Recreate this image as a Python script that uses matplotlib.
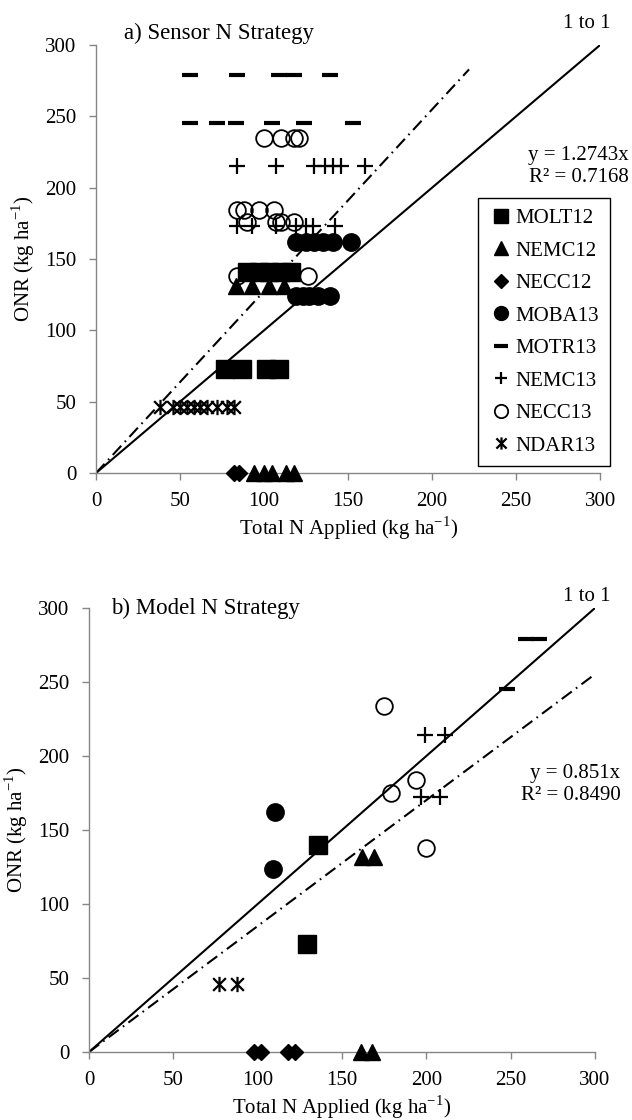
import numpy as np
import matplotlib
matplotlib.use("Agg")
import matplotlib.pyplot as plt
from matplotlib.path import Path

plt.rcParams['font.family'] = ['Liberation Serif', 'DejaVu Serif']
plt.rcParams['mathtext.fontset'] = 'custom'
plt.rcParams['mathtext.rm'] = 'Liberation Serif'

# nombres de los sitios
sites = ["MOLT12", "NEMC12", "NECC12", "MOBA13", "MOTR13", "NEMC13", "NECC13", "NDAR13"]

# a) Sensor N Strategy: N total aplicado (x) y ONR (y)
sensor_x = {
    "MOLT12": [90, 97, 103, 110, 116, 77, 87, 101, 109],
    "NEMC12": [83, 93, 103, 112, 94, 100, 105, 113, 118],
    "NECC12": [82, 85],
    "MOBA13": [119, 125, 130, 135, 141, 152, 119, 123, 127, 132, 139],
    "MOTR13": [56, 84, 109, 118, 139, 56, 72, 83, 105, 124, 153],
    "NEMC13": [84, 107, 130, 136, 141, 146, 160, 84, 93, 107, 119, 125, 129, 142],
    "NECC13": [100, 110, 118, 121, 84, 88, 97, 106, 90, 107, 110, 118, 84, 126],
    "NDAR13": [38, 46, 50, 54, 58, 62, 66, 72, 78, 82],
}
sensor_y = {
    "MOLT12": [141, 141, 141, 141, 141, 73, 73, 73, 73],
    "NEMC12": [131, 131, 131, 131, 0, 0, 0, 0, 0],
    "NECC12": [0, 0],
    "MOBA13": [162, 162, 162, 162, 162, 162, 124, 124, 124, 124, 124],
    "MOTR13": [279, 279, 279, 279, 279, 245, 245, 245, 245, 245, 245],
    "NEMC13": [215, 215, 215, 215, 215, 215, 215, 173, 173, 173, 173, 173, 173, 173],
    "NECC13": [235, 235, 235, 235, 184, 184, 184, 184, 176, 176, 176, 176, 138, 138],
    "NDAR13": [46, 46, 46, 46, 46, 46, 46, 46, 46, 46],
}

# b) Model N Strategy
model_x = {
    "MOLT12": [136, 129],
    "NEMC12": [162, 169, 161, 168],
    "NECC12": [98, 102, 118, 122],
    "MOBA13": [110, 109],
    "MOTR13": [259, 267, 248],
    "NEMC13": [199, 211, 197, 208],
    "NECC13": [175, 194, 179, 200],
    "NDAR13": [77, 88],
}
model_y = {
    "MOLT12": [140, 73],
    "NEMC12": [132, 132, 0, 0],
    "NECC12": [0, 0, 0, 0],
    "MOBA13": [162, 124],
    "MOTR13": [279, 279, 245],
    "NEMC13": [214, 214, 172, 172],
    "NECC13": [234, 184, 175, 138],
    "NDAR13": [46, 46],
}

# pendientes y R2 de las regresiones
sensor_slope, sensor_r2, sensor_xmax = 1.2743, 0.7168, 222
model_slope, model_r2, model_xmax = 0.851, 0.8490, 298

# marcador tipo asterisco de Excel: una X con linea vertical
asterisco = Path([(-1, -1), (1, 1), (-1, 1), (1, -1), (0, -1.2), (0, 1.2)],
                 [Path.MOVETO, Path.LINETO, Path.MOVETO, Path.LINETO,
                  Path.MOVETO, Path.LINETO])

# estilo de marcadores por sitio
estilos = {
    "MOLT12": dict(marker='s', ms=13, mfc='black', mec='black'),
    "NEMC12": dict(marker='^', ms=12, mfc='black', mec='black'),
    "NECC12": dict(marker='D', ms=8.5, mfc='black', mec='black'),
    "MOBA13": dict(marker='o', ms=12.5, mfc='black', mec='black'),
    "MOTR13": dict(marker='_', ms=12, mec='black', mew=3),
    "NEMC13": dict(marker='+', ms=11, mec='black', mew=1.6),
    "NECC13": dict(marker='o', ms=12, mfc='none', mec='black', mew=1.3),
    "NDAR13": dict(marker=asterisco, ms=11, mfc='none', mec='black', mew=1.6),
}

gris = '#868686'
fs = 15


def formato_ejes(ax):
    ax.set_xlim(0, 300)
    ax.set_ylim(0, 300)
    ax.set_xticks(range(0, 301, 50))
    ax.set_yticks(range(0, 301, 50))
    for lado in ['top', 'right']:
        ax.spines[lado].set_visible(False)
    for lado in ['left', 'bottom']:
        ax.spines[lado].set_color(gris)
        ax.spines[lado].set_linewidth(1.0)
    ax.tick_params(direction='out', length=5, width=1.0, color=gris,
                   labelsize=fs, pad=9)
    ax.set_xlabel('Total N Applied (kg ha$^{\\mathregular{-1}}$)', fontsize=fs, labelpad=2)
    ax.set_ylabel('ONR (kg ha$^{\\mathregular{-1}}$)', fontsize=fs, labelpad=6)


def dibujar(ax, xs, ys, slope, r2, xmax, titulo, tit_pos, uno_pos, eq_pos):
    lx = np.array([0, 300])
    ax.plot(lx, lx, color='black', lw=1.5, zorder=1)
    rx = np.array([0, xmax])
    ax.plot(rx, slope * rx, color='black', lw=1.5,
            linestyle=(0, (6, 2.5, 0.8, 2.5)), zorder=1)
    handles = []
    for s in sites:
        h, = ax.plot(xs[s], ys[s], linestyle='none', label=s, zorder=3,
                     clip_on=False, **estilos[s])
        handles.append(h)
    ax.text(tit_pos[0], tit_pos[1], titulo, fontsize=16.5, va='center', ha='left')
    ax.text(uno_pos[0], uno_pos[1], '1 to 1', fontsize=fs, va='center', ha='center',
            clip_on=False)
    ax.text(eq_pos[0], eq_pos[1], f'y = {slope}x\nR² = {r2:.4f}', fontsize=fs,
            va='center', ha='right', multialignment='right', linespacing=1.2,
            clip_on=False)
    formato_ejes(ax)
    return handles


fig = plt.figure(figsize=(6.32, 11.2), dpi=100)
ax1 = fig.add_axes([0.152, 0.5777, 0.7975, 0.3821])
ax2 = fig.add_axes([0.1408, 0.0607, 0.8006, 0.3964])

handles = dibujar(ax1, sensor_x, sensor_y, sensor_slope, sensor_r2, sensor_xmax,
                  'a) Sensor N Strategy', (16.5, 308), (292, 315), (317, 215))
dibujar(ax2, model_x, model_y, model_slope, model_r2, model_xmax,
        'b) Model N Strategy', (13, 300), (295, 308), (315, 181))

leg = ax1.legend(handles, sites, loc='upper left', bbox_to_anchor=(0.758, 0.6425),
                 frameon=True, fancybox=False, edgecolor='black', framealpha=1,
                 fontsize=fs, handlelength=1.2, handletextpad=0.1,
                 labelspacing=0.62, borderpad=0.5, borderaxespad=0,
                 markerscale=0.8)
leg.get_frame().set_linewidth(1.0)

fig.savefig('out.png', dpi=100)
